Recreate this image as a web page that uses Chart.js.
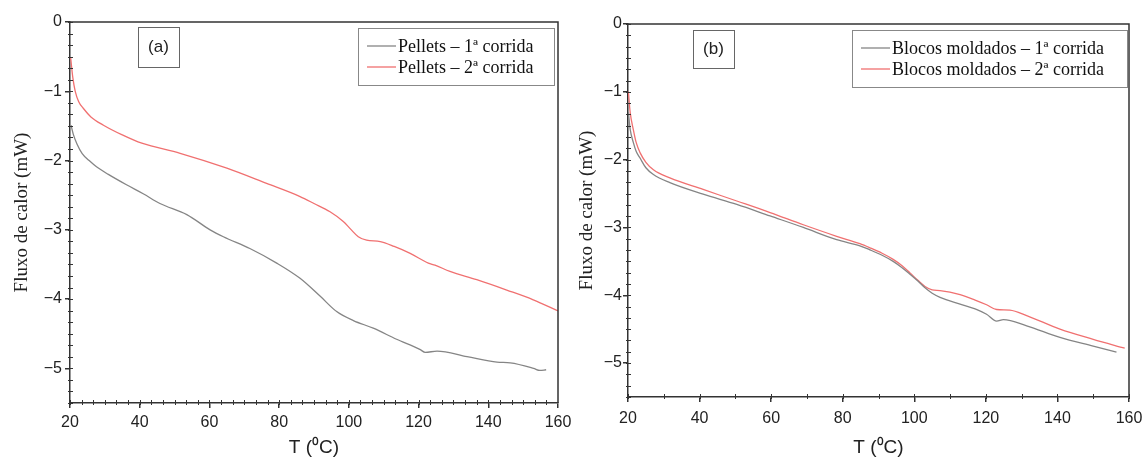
<!DOCTYPE html>
<html>
<head>
<meta charset="utf-8">
<script src="https://cdn.jsdelivr.net/npm/chart.js@4.4.1/dist/chart.umd.min.js"></script>
<style>
  html, body { margin: 0; padding: 0; background: #fff; }
  #wrap { position: relative; width: 1144px; height: 458px; }
  .panel { position: absolute; top: 0; width: 572px; height: 458px; }
</style>
</head>
<body>
<div id="wrap">
  <div class="panel" style="left:0"><canvas id="chartA" width="572" height="458"></canvas></div>
  <div class="panel" style="left:572px"><canvas id="chartB" width="572" height="458"></canvas></div>
</div>
<script>
// ====== DADOS ======
const xTicks = [20, 40, 60, 80, 100, 120, 140, 160];
const yTicks = [0, -1, -2, -3, -4, -5];

// (a) Pellets
const tempA1 = [20.3, 21, 22, 23.5, 25.5, 27.6, 31, 36.2, 41, 45.8, 53.5, 60.2, 64, 71.6, 79.3, 86, 91.8, 96.5, 101.3, 107, 113.7, 120.5, 121.9, 125.3, 133.9, 142.5, 146.3, 153, 154.8, 156.6];
const fluxA1 = [-1.49, -1.63, -1.76, -1.90, -2.00, -2.09, -2.20, -2.35, -2.48, -2.62, -2.78, -3.00, -3.10, -3.27, -3.48, -3.70, -3.96, -4.18, -4.31, -4.42, -4.58, -4.73, -4.77, -4.75, -4.83, -4.91, -4.92, -5.00, -5.03, -5.02];
const tempA2 = [20.2, 20.8, 21.5, 22.5, 23.8, 26, 29.6, 35, 40.6, 51.6, 65, 76.4, 86, 90, 94.6, 98.4, 100.5, 102.7, 105.1, 109, 113, 117.6, 122.8, 124.7, 129, 136.7, 145.3, 152.9, 160];
const fluxA2 = [-0.52, -0.80, -1.00, -1.15, -1.245, -1.37, -1.49, -1.63, -1.75, -1.895, -2.11, -2.33, -2.52, -2.62, -2.74, -2.88, -2.99, -3.10, -3.15, -3.17, -3.24, -3.34, -3.48, -3.51, -3.60, -3.72, -3.87, -4.01, -4.17];

// (b) Blocos moldados
const tempB1 = [20.1, 20.6, 21.5, 22.3, 23.4, 25, 27.1, 31.7, 41, 50.4, 59.7, 69, 78.3, 84.8, 87.6, 91, 94.1, 96.5, 98.8, 101, 103, 105, 107.2, 112.8, 117, 120.2, 123, 124.9, 131.4, 140.7, 150, 156.5];
const fluxB1 = [-1.30, -1.55, -1.75, -1.88, -1.98, -2.12, -2.22, -2.34, -2.51, -2.66, -2.83, -3.00, -3.18, -3.27, -3.33, -3.41, -3.50, -3.59, -3.69, -3.79, -3.89, -3.97, -4.03, -4.13, -4.20, -4.28, -4.38, -4.36, -4.45, -4.62, -4.75, -4.84];
const tempB2 = [20.1, 20.6, 21.5, 22.3, 23.4, 25, 27.1, 31.7, 41, 50.4, 59.7, 69, 78.3, 84.8, 87.6, 91, 94.1, 96.5, 98.8, 101, 103, 105, 107.2, 112.8, 117, 120.2, 123, 126.7, 131.4, 140.7, 150, 158.8];
const fluxB2 = [-0.995, -1.30, -1.56, -1.75, -1.90, -2.04, -2.15, -2.27, -2.44, -2.61, -2.78, -2.96, -3.13, -3.24, -3.30, -3.38, -3.47, -3.56, -3.67, -3.78, -3.87, -3.92, -3.93, -3.99, -4.07, -4.14, -4.21, -4.22, -4.30, -4.50, -4.65, -4.78];

const GRAY = "#858585";
const RED = "#f07070";
const AXIS = "#333333";

function pts(xs, ys) {
  return xs.map((x, i) => ({ x: x, y: ys[i] }));
}

// ====== PLUGIN: moldura, ticks menores, legenda e rótulo ======
const decor = {
  id: "decor",
  afterDraw(chart, args, opts) {
    const c = chart.ctx;
    const a = chart.chartArea;
    const xs = chart.scales.x, ys = chart.scales.y;
    c.save();
    c.strokeStyle = AXIS;
    c.lineWidth = 1.5;
    c.beginPath();
    c.moveTo(a.left, a.top); c.lineTo(a.right, a.top); c.lineTo(a.right, a.bottom);
    c.stroke();

    // ticks menores
    c.lineWidth = 1;
    const xStep = 20 / (opts.xMinor + 1);
    for (let v = 20; v <= 160; v += xStep) {
      const px = Math.round(xs.getPixelForValue(v)) + 0.5;
      c.beginPath(); c.moveTo(px, a.bottom - 3); c.lineTo(px, a.bottom + 2); c.stroke();
    }
    const yStep = 1 / (opts.yMinor + 1);
    for (let k = 0; k * yStep <= 5.5 + 1e-6; k++) {
      const py = Math.round(ys.getPixelForValue(-k * yStep)) + 0.5;
      c.beginPath(); c.moveTo(a.left - 2, py); c.lineTo(a.left + 3, py); c.stroke();
    }

    // rótulo (a)/(b)
    const p = opts.panel;
    c.strokeStyle = "#666";
    c.lineWidth = 1;
    c.strokeRect(p.x + 0.5, p.y + 0.5, p.w, p.h);
    c.fillStyle = "#222";
    c.font = "17px 'Liberation Sans', Arial, sans-serif";
    c.textAlign = "center";
    c.textBaseline = "middle";
    c.fillText(opts.panelText, p.x + p.w / 2, p.y + p.h / 2);

    // legenda
    const L = opts.legend;
    c.strokeStyle = "#888";
    c.strokeRect(L.x + 0.5, L.y + 0.5, L.w, L.h);
    c.font = "18px 'Liberation Serif', 'Times New Roman', serif";
    c.textAlign = "left";
    chart.data.datasets.forEach((ds, i) => {
      const yy = L.rowY[i];
      c.strokeStyle = ds.borderColor;
      c.lineWidth = 1.3;
      c.beginPath(); c.moveTo(L.lineX1, yy); c.lineTo(L.lineX2, yy); c.stroke();
      c.fillStyle = "#111";
      c.fillText(ds.label, L.textX, yy + 1);
    });
    c.restore();
  }
};

function makeChart(id, datasets, g) {
  return new Chart(document.getElementById(id).getContext("2d"), {
    type: "line",
    data: { datasets: datasets },
    plugins: [decor],
    options: {
      responsive: false,
      animation: false,
      layout: { padding: { top: g.top, right: g.right, left: 0, bottom: 0 } },
      elements: {
        point: { radius: 0 },
        line: { borderWidth: 1.3, cubicInterpolationMode: "monotone" }
      },
      plugins: {
        legend: { display: false },
        tooltip: { enabled: false },
        decor: g.decor
      },
      scales: {
        x: {
          type: "linear",
          min: 20, max: 160,
          afterBuildTicks: (s) => { s.ticks = xTicks.map(v => ({ value: v })); },
          afterFit: (s) => { s.height = g.xHeight; s.paddingLeft = 0; s.paddingRight = 0; },
          grid: { drawOnChartArea: false, tickLength: 5, color: AXIS, lineWidth: 1.5 },
          border: { display: true, color: AXIS, width: 1.5 },
          ticks: { color: "#222", padding: g.xPad, maxRotation: 0, font: { family: "'Liberation Sans', Arial, sans-serif", size: 16 } },
          title: { display: true, text: "T (\u2070C)", color: "#222", padding: { top: 0, bottom: -1 }, font: { family: "'Liberation Sans', Arial, sans-serif", size: 19 } }
        },
        y: {
          type: "linear",
          min: -5.5, max: 0,
          afterBuildTicks: (s) => { s.ticks = yTicks.map(v => ({ value: v })); },
          afterFit: (s) => { s.width = g.yWidth; },
          grid: { drawOnChartArea: false, tickLength: 5, color: AXIS, lineWidth: 1.5 },
          border: { display: true, color: AXIS, width: 1.5 },
          ticks: {
            color: "#222", padding: g.yPad,
            font: { family: "'Liberation Sans', Arial, sans-serif", size: 16 },
            callback: (v) => v === 0 ? "0" : "\u2212" + Math.abs(v)
          },
          title: { display: true, text: "Fluxo de calor (mW)", color: "#222", padding: { top: g.yTitlePad, bottom: 0 }, font: { family: "'Liberation Serif', 'Times New Roman', serif", size: 19 } }
        }
      }
    }
  });
}

// ====== GRÁFICO (a) ======
makeChart("chartA", [
  { label: "Pellets \u2013 1\u00aa corrida", data: pts(tempA1, fluxA1), borderColor: GRAY },
  { label: "Pellets \u2013 2\u00aa corrida", data: pts(tempA2, fluxA2), borderColor: RED }
], {
  top: 22, right: 14, xHeight: 55, yWidth: 70, xPad: 5, yPad: 3, yTitlePad: 11,
  decor: {
    xMinor: 5, yMinor: 5,
    panel: { x: 138, y: 27, w: 41, h: 40 }, panelText: "(a)",
    legend: { x: 358, y: 28, w: 196, h: 57, lineX1: 367, lineX2: 396, textX: 398, rowY: [46, 67] }
  }
});

// ====== GRÁFICO (b) ======
makeChart("chartB", [
  { label: "Blocos moldados \u2013 1\u00aa corrida", data: pts(tempB1, fluxB1), borderColor: GRAY },
  { label: "Blocos moldados \u2013 2\u00aa corrida", data: pts(tempB2, fluxB2), borderColor: RED }
], {
  top: 24, right: 15, xHeight: 61, yWidth: 56, xPad: 7, yPad: 1, yTitlePad: 4,
  decor: {
    xMinor: 1, yMinor: 5,
    panel: { x: 121, y: 30, w: 41, h: 38 }, panelText: "(b)",
    legend: { x: 280, y: 30, w: 275, h: 57, lineX1: 289, lineX2: 318, textX: 320, rowY: [48, 69] }
  }
});
</script>
</body>
</html>
